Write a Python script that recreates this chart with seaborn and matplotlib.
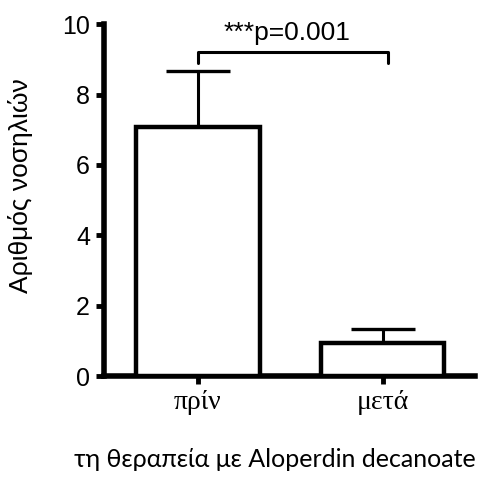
import matplotlib
matplotlib.use("Agg")
import matplotlib.pyplot as plt
import numpy as np
import seaborn as sns
import pandas as pd

categories = ["πρίν", "μετά"]
means = [7.07, 0.94]
sem = [1.60, 0.40]
p_text = "***p=0.001"
bracket_y = 9.2
bracket_drop = 0.3
ylabel = "Αριθμός νοσηλιών"
xlabel = "τη θεραπεία με Aloperdin decanoate"

sns.set_style("ticks", {"axes.edgecolor": "black", "text.color": "black",
                        "xtick.color": "black", "ytick.color": "black",
                        "axes.labelcolor": "black"})
df = pd.DataFrame({"group": categories, "value": means})

fig = plt.figure(figsize=(4.83, 4.83), dpi=100)
ax = fig.add_axes([0.215, 0.2215, 0.768, 0.7285])

sns.barplot(data=df, x="group", y="value", ax=ax, color="white",
            edgecolor="black", linewidth=3.2, width=0.67, errorbar=None,
            zorder=3)
xs = np.arange(len(categories))
ax.errorbar(xs, means, yerr=[np.zeros(len(sem)), sem], fmt="none",
            ecolor="black", elinewidth=2.2, capsize=23, capthick=2.4, zorder=2)

# significance bracket
ax.plot([0, 0, 1.03, 1.03], [bracket_y - bracket_drop, bracket_y, bracket_y, bracket_y - bracket_drop],
        color="black", lw=2.2, clip_on=False)
ax.text(0.48, 9.55, p_text, ha="center", va="baseline", fontsize=19,
        family="Liberation Sans", color="black")

ax.set_xlim(-0.51, 1.5)
ax.set_ylim(0, 10)
ax.set_yticks([0, 2, 4, 6, 8, 10])
ax.set_xticks(xs)
sns.despine(ax=ax)
for s in ["left", "bottom"]:
    ax.spines[s].set_linewidth(4)
    ax.spines[s].set_color("black")
ax.tick_params(axis="both", width=3.5, length=6, color="black", labelcolor="black", pad=4)
ax.set_yticklabels([str(v) for v in [0, 2, 4, 6, 8, 10]], family="Liberation Sans", fontsize=18)
ax.set_xticklabels(categories, fontsize=20, family="Liberation Serif")
ax.set_ylabel(ylabel, fontsize=19, family="Liberation Sans", color="black")
ax.yaxis.set_label_coords(-0.19, 0.54)
ax.set_xlabel(xlabel, fontsize=18, family="Lato", va="top", color="black")
ax.xaxis.set_label_coords(0.46, -0.205)

fig.savefig("out.png", dpi=100)
